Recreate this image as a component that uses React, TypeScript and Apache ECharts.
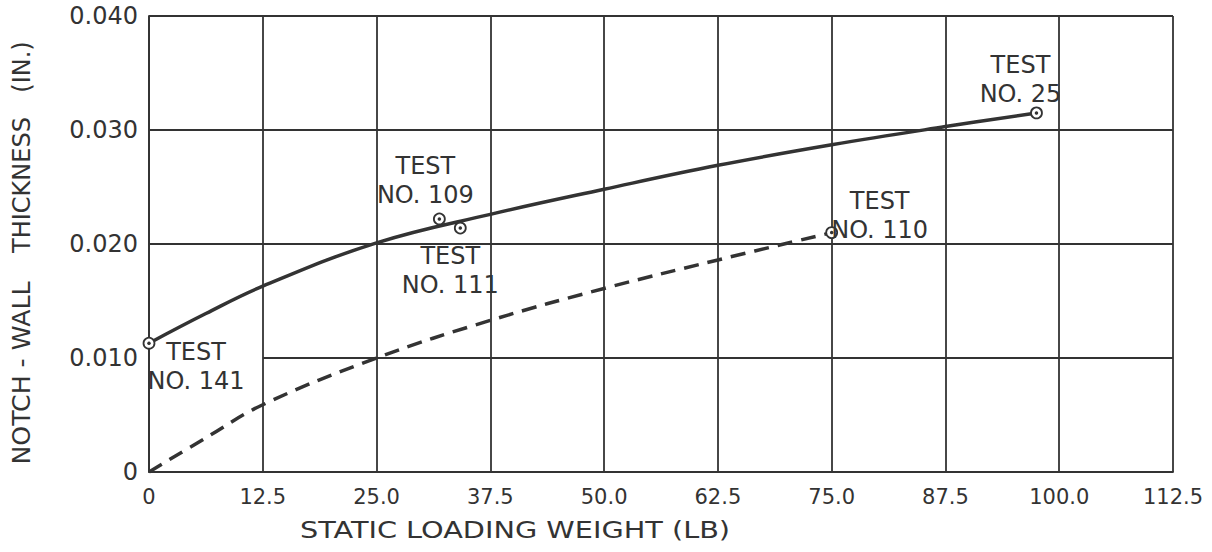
import React, { useEffect, useRef } from "react";
import * as echarts from "echarts";

// Curves (static loading weight in lb -> notch-wall thickness in in.)
const solidX = [0, 6.25, 12.5, 25, 37.5, 50, 62.5, 75, 87.5, 97.5];
const solidY = [0.0113, 0.0139, 0.0163, 0.0201, 0.0226, 0.0248, 0.0269, 0.0287, 0.0303, 0.0315];
const dashedX = [0, 6.25, 12.5, 25, 37.5, 50, 62.5, 75];
const dashedY = [0, 0.003, 0.0059, 0.01, 0.0133, 0.0161, 0.0186, 0.021];

// Test points
const testNames = ["141", "109", "111", "110", "25"];
const testX = [0, 31.9, 34.2, 75.0, 97.5];
const testY = [0.0113, 0.0222, 0.0214, 0.021, 0.0315];

const xTickLabels = ["0", "12.5", "25.0", "37.5", "50.0", "62.5", "75.0", "87.5", "100.0", "112.5"];
const yTickLabels = ["0", "0.010", "0.020", "0.030", "0.040"];

// label offsets (style/layout), relative to each marker
const labelOffsets: number[][] = [
  [47, 23],
  [-14, -38],
  [-10, 42],
  [48, -17],
  [-16, -33],
];

const INK = "#333333";
const FONT = "DejaVu Sans";

export default function App() {
  const ref = useRef<HTMLDivElement>(null);
  useEffect(() => {
    if (!ref.current) return;
    const chart = echarts.init(ref.current, null, { renderer: "svg" });
    const xStep = 12.5;
    const yStep = 0.01;
    const option: any = {
      animation: false,
      backgroundColor: "#ffffff",
      textStyle: { fontFamily: FONT, color: INK },
      grid: { left: 149, right: 39, top: 16, bottom: 80, containLabel: false },
      xAxis: {
        type: "value",
        min: 0,
        max: 112.5,
        interval: xStep,
        axisLine: { show: true, lineStyle: { color: INK, width: 1.8 } },
        axisTick: { show: false },
        axisLabel: {
          margin: 14,
          fontSize: 21,
          color: INK,
          fontFamily: FONT,
          formatter: (v: number) => xTickLabels[Math.round(v / xStep)] ?? "",
        },
        splitLine: { show: true, lineStyle: { color: INK, width: 1.8 } },
      },
      yAxis: {
        type: "value",
        min: 0,
        max: 0.04,
        interval: yStep,
        axisLine: { show: true, lineStyle: { color: INK, width: 1.8 } },
        axisTick: { show: false },
        axisLabel: {
          margin: 11,
          fontSize: 24,
          color: INK,
          fontFamily: FONT,
          formatter: (v: number) => yTickLabels[Math.round(v / yStep)] ?? "",
        },
        splitLine: { show: false },
      },
      series: [
        {
          type: "line",
          data: [],
          silent: true,
          z: 1,
          markLine: {
            silent: true,
            symbol: "none",
            label: { show: false },
            lineStyle: { type: "solid", color: INK, width: 1.8 },
            data: [
              [{ coord: [12.5, 0.01] }, { coord: [112.5, 0.01] }],
              [{ coord: [0, 0.02] }, { coord: [112.5, 0.02] }],
              [{ coord: [0, 0.03] }, { coord: [112.5, 0.03] }],
              [{ coord: [0, 0.04] }, { coord: [112.5, 0.04] }],
            ],
          },
        },
        {
          type: "line",
          data: solidX.map((x, i) => [x, solidY[i]]),
          smooth: 0.4,
          symbol: "none",
          lineStyle: { color: INK, width: 3.5 },
          z: 3,
        },
        {
          type: "line",
          data: dashedX.map((x, i) => [x, dashedY[i]]),
          smooth: 0.4,
          symbol: "none",
          lineStyle: { color: INK, width: 3.5, type: [15, 9] },
          z: 3,
        },
        {
          type: "scatter",
          symbol: "circle",
          symbolSize: 11,
          itemStyle: { color: "#ffffff", borderColor: INK, borderWidth: 1.8, opacity: 1 },
          z: 4,
          data: testX.map((x, i) => ({
            value: [x, testY[i]],
            label: {
              show: true,
              position: "inside",
              offset: labelOffsets[i],
              formatter: "TEST\nNO. " + testNames[i],
              fontSize: 24,
              lineHeight: 29,
              color: INK,
              textBorderWidth: 0,
              textBorderColor: "transparent",
              fontFamily: FONT,
              align: "center",
            },
          })),
        },
        {
          type: "scatter",
          symbol: "circle",
          symbolSize: 3.5,
          itemStyle: { color: INK, opacity: 1 },
          z: 5,
          silent: true,
          data: testX.map((x, i) => [x, testY[i]]),
        },
      ],
      graphic: [
        {
          type: "text",
          x: 515,
          y: 530,
          scaleX: 1.25,
          style: { text: "STATIC LOADING WEIGHT (LB)", fontSize: 23, fill: INK, fontFamily: FONT, align: "center", verticalAlign: "middle" },
        },
        {
          type: "text",
          x: 22,
          y: 373,
          rotation: Math.PI / 2,
          scaleX: 1.05,
          style: { text: "NOTCH - WALL", fontSize: 24, fill: INK, fontFamily: FONT, align: "center", verticalAlign: "middle" },
        },
        {
          type: "text",
          x: 22,
          y: 185,
          rotation: Math.PI / 2,
          scaleX: 1.0,
          style: { text: "THICKNESS", fontSize: 24, fill: INK, fontFamily: FONT, align: "center", verticalAlign: "middle" },
        },
        {
          type: "text",
          x: 22,
          y: 67,
          rotation: Math.PI / 2,
          scaleX: 1.0,
          style: { text: "(IN.)", fontSize: 24, fill: INK, fontFamily: FONT, align: "center", verticalAlign: "middle" },
        },
      ],
    };
    chart.setOption(option);
    return () => chart.dispose();
  }, []);
  return (
    <div
      ref={ref}
      style={{ position: "fixed", left: 0, top: 0, width: 1212, height: 552, background: "#fff" }}
    />
  );
}
